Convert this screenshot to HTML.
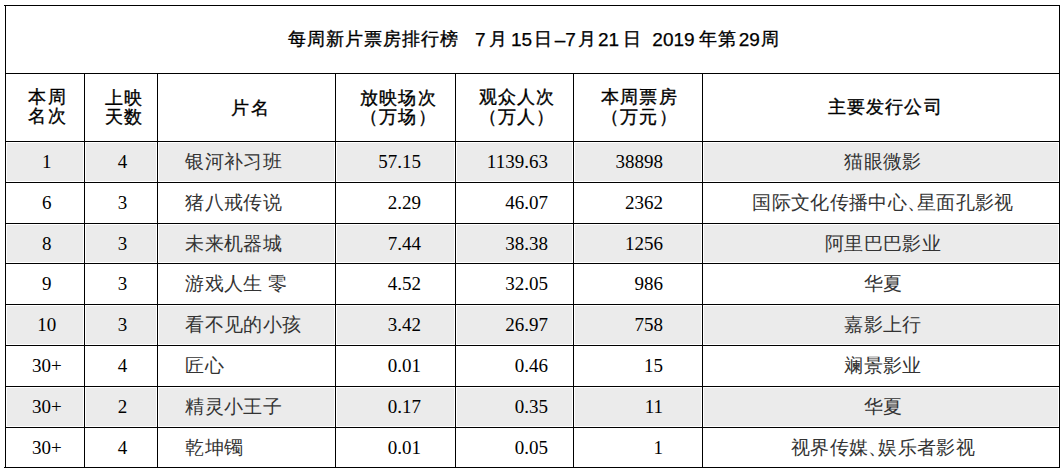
<!DOCTYPE html>
<html><head><meta charset="utf-8">
<style>
html,body{margin:0;padding:0;background:#fff;}
body{width:1064px;height:472px;position:relative;overflow:hidden;}
.l{position:absolute;background:#000;}
.g{position:absolute;background:#ebebeb;}
.t{position:absolute;white-space:nowrap;color:#000;line-height:1;}
.ttl{font-family:"Liberation Sans",sans-serif;font-size:19px;-webkit-text-stroke:0.25px #000;}
.tc{font-size:18.3px;letter-spacing:1.1px;-webkit-text-stroke:0.35px #000;}
.hd{font-family:"Liberation Sans",sans-serif;font-size:17.6px;letter-spacing:1.2px;line-height:19.4px;text-align:center;-webkit-text-stroke:0.35px #000;}
.cn{font-family:"Liberation Sans",sans-serif;font-size:19.35px;letter-spacing:0.35px;color:#333;}
.nm{font-family:"Liberation Serif",serif;font-size:19px;}
.hw{letter-spacing:-9px;}
</style></head><body>

<div class="g" style="left:7px;top:143px;width:76px;height:38px"></div>
<div class="g" style="left:86px;top:143px;width:70px;height:38px"></div>
<div class="g" style="left:159px;top:143px;width:175px;height:38px"></div>
<div class="g" style="left:337px;top:143px;width:117px;height:38px"></div>
<div class="g" style="left:457px;top:143px;width:115px;height:38px"></div>
<div class="g" style="left:575px;top:143px;width:126px;height:38px"></div>
<div class="g" style="left:704px;top:143px;width:354px;height:38px"></div>
<div class="g" style="left:7px;top:225px;width:76px;height:37px"></div>
<div class="g" style="left:86px;top:225px;width:70px;height:37px"></div>
<div class="g" style="left:159px;top:225px;width:175px;height:37px"></div>
<div class="g" style="left:337px;top:225px;width:117px;height:37px"></div>
<div class="g" style="left:457px;top:225px;width:115px;height:37px"></div>
<div class="g" style="left:575px;top:225px;width:126px;height:37px"></div>
<div class="g" style="left:704px;top:225px;width:354px;height:37px"></div>
<div class="g" style="left:7px;top:306px;width:76px;height:38px"></div>
<div class="g" style="left:86px;top:306px;width:70px;height:38px"></div>
<div class="g" style="left:159px;top:306px;width:175px;height:38px"></div>
<div class="g" style="left:337px;top:306px;width:117px;height:38px"></div>
<div class="g" style="left:457px;top:306px;width:115px;height:38px"></div>
<div class="g" style="left:575px;top:306px;width:126px;height:38px"></div>
<div class="g" style="left:704px;top:306px;width:354px;height:38px"></div>
<div class="g" style="left:7px;top:388px;width:76px;height:38px"></div>
<div class="g" style="left:86px;top:388px;width:70px;height:38px"></div>
<div class="g" style="left:159px;top:388px;width:175px;height:38px"></div>
<div class="g" style="left:337px;top:388px;width:117px;height:38px"></div>
<div class="g" style="left:457px;top:388px;width:115px;height:38px"></div>
<div class="g" style="left:575px;top:388px;width:126px;height:38px"></div>
<div class="g" style="left:704px;top:388px;width:354px;height:38px"></div>
<div class="l" style="left:4px;top:5px;width:1056px;height:1px"></div>
<div class="l" style="left:5px;top:73px;width:1055px;height:1px"></div>
<div class="l" style="left:5px;top:141px;width:1055px;height:1px"></div>
<div class="l" style="left:5px;top:182px;width:1055px;height:1px"></div>
<div class="l" style="left:5px;top:223px;width:1055px;height:1px"></div>
<div class="l" style="left:5px;top:263px;width:1055px;height:1px"></div>
<div class="l" style="left:5px;top:304px;width:1055px;height:1px"></div>
<div class="l" style="left:5px;top:345px;width:1055px;height:1px"></div>
<div class="l" style="left:5px;top:386px;width:1055px;height:1px"></div>
<div class="l" style="left:5px;top:427px;width:1055px;height:1px"></div>
<div class="l" style="left:4px;top:467px;width:1056px;height:1px"></div>
<div class="l" style="left:5px;top:5px;width:1px;height:463px"></div>
<div class="l" style="left:84px;top:73px;width:1px;height:395px"></div>
<div class="l" style="left:157px;top:73px;width:1px;height:395px"></div>
<div class="l" style="left:335px;top:73px;width:1px;height:395px"></div>
<div class="l" style="left:455px;top:73px;width:1px;height:395px"></div>
<div class="l" style="left:573px;top:73px;width:1px;height:395px"></div>
<div class="l" style="left:702px;top:73px;width:1px;height:395px"></div>
<div class="l" style="left:1059px;top:5px;width:1px;height:463px"></div>
<div class="t ttl tc" id="T0" style="left:287.7px;top:30.25px">每周新片票房排行榜</div>
<div class="t ttl" id="T1" style="left:474.95px;top:30.15px">7</div>
<div class="t ttl tc" id="T2" style="left:489.4px;top:30.25px">月</div>
<div class="t ttl" id="T3" style="left:510.9px;top:30.15px">15</div>
<div class="t ttl tc" id="T4" style="left:534.0px;top:30.25px">日</div>
<div class="t ttl" id="T5" style="left:554.75px;top:30.15px">–7</div>
<div class="t ttl tc" id="T6" style="left:577.6px;top:30.25px">月</div>
<div class="t ttl" id="T7" style="left:598.0px;top:30.15px">21</div>
<div class="t ttl tc" id="T8" style="left:623.0px;top:30.25px">日</div>
<div class="t ttl" id="T9" style="left:652.35px;top:30.15px">2019</div>
<div class="t ttl tc" id="T10" style="left:698.65px;top:30.25px">年第</div>
<div class="t ttl" id="T11" style="left:738.75px;top:30.15px">29</div>
<div class="t ttl tc" id="T12" style="left:761.25px;top:30.25px">周</div>
<div class="t hd" id="H0" style="left:-152.4px;width:400px;text-align:center;top:88.05px">本周<br>名次</div>
<div class="t hd" id="H1" style="left:-76.2px;width:400px;text-align:center;top:88.56px">上映<br>天数</div>
<div class="t hd" id="H2" style="left:50.55px;width:400px;text-align:center;top:99.46px">片名</div>
<div class="t hd" id="H3" style="left:198.34px;width:400px;text-align:center;top:88.54px">放映场次<br>（万场）</div>
<div class="t hd" id="H4" style="left:317.05px;width:400px;text-align:center;top:88.35px">观众人次<br>（万人）</div>
<div class="t hd" id="H5" style="left:439.34px;width:400px;text-align:center;top:88.25px">本周票房<br>（万元）</div>
<div class="t hd" id="H6" style="left:685.3px;width:400px;text-align:center;top:98.29px">主要发行公司</div>
<div class="t nm" id="R0C0" style="left:-153.2px;width:400px;text-align:center;top:152px">1</div>
<div class="t nm" id="R0C1" style="left:-77.6px;width:400px;text-align:center;top:152px">4</div>
<div class="t cn" id="R0C2" style="left:185.3px;top:152px">银河补习班</div>
<div class="t nm" id="R0C3" style="right:643px;top:152px">57.15</div>
<div class="t nm" id="R0C4" style="right:516.1px;top:152px">1139.63</div>
<div class="t nm" id="R0C5" style="right:400.9px;top:152px">38898</div>
<div class="t cn" id="R0C6" style="left:683px;width:400px;text-align:center;top:152px">猫眼微影</div>
<div class="t nm" id="R1C0" style="left:-153.2px;width:400px;text-align:center;top:193px">6</div>
<div class="t nm" id="R1C1" style="left:-77.6px;width:400px;text-align:center;top:193px">3</div>
<div class="t cn" id="R1C2" style="left:185.3px;top:193px">猪八戒传说</div>
<div class="t nm" id="R1C3" style="right:643px;top:193px">2.29</div>
<div class="t nm" id="R1C4" style="right:516.1px;top:193px">46.07</div>
<div class="t nm" id="R1C5" style="right:400.9px;top:193px">2362</div>
<div class="t cn" id="R1C6" style="left:683px;width:400px;text-align:center;top:193px">国际文化传播中心<span class="hw">、</span>星面孔影视</div>
<div class="t nm" id="R2C0" style="left:-153.2px;width:400px;text-align:center;top:234px">8</div>
<div class="t nm" id="R2C1" style="left:-77.6px;width:400px;text-align:center;top:234px">3</div>
<div class="t cn" id="R2C2" style="left:185.3px;top:234px">未来机器城</div>
<div class="t nm" id="R2C3" style="right:643px;top:234px">7.44</div>
<div class="t nm" id="R2C4" style="right:516.1px;top:234px">38.38</div>
<div class="t nm" id="R2C5" style="right:400.9px;top:234px">1256</div>
<div class="t cn" id="R2C6" style="left:683px;width:400px;text-align:center;top:234px">阿里巴巴影业</div>
<div class="t nm" id="R3C0" style="left:-153.2px;width:400px;text-align:center;top:274px">9</div>
<div class="t nm" id="R3C1" style="left:-77.6px;width:400px;text-align:center;top:274px">3</div>
<div class="t cn" id="R3C2" style="left:185.3px;top:274px">游戏人生 零</div>
<div class="t nm" id="R3C3" style="right:643px;top:274px">4.52</div>
<div class="t nm" id="R3C4" style="right:516.1px;top:274px">32.05</div>
<div class="t nm" id="R3C5" style="right:400.9px;top:274px">986</div>
<div class="t cn" id="R3C6" style="left:683px;width:400px;text-align:center;top:274px">华夏</div>
<div class="t nm" id="R4C0" style="left:-153.2px;width:400px;text-align:center;top:315px">10</div>
<div class="t nm" id="R4C1" style="left:-77.6px;width:400px;text-align:center;top:315px">3</div>
<div class="t cn" id="R4C2" style="left:185.3px;top:315px">看不见的小孩</div>
<div class="t nm" id="R4C3" style="right:643px;top:315px">3.42</div>
<div class="t nm" id="R4C4" style="right:516.1px;top:315px">26.97</div>
<div class="t nm" id="R4C5" style="right:400.9px;top:315px">758</div>
<div class="t cn" id="R4C6" style="left:683px;width:400px;text-align:center;top:315px">嘉影上行</div>
<div class="t nm" id="R5C0" style="left:-153.2px;width:400px;text-align:center;top:356px">30+</div>
<div class="t nm" id="R5C1" style="left:-77.6px;width:400px;text-align:center;top:356px">4</div>
<div class="t cn" id="R5C2" style="left:185.3px;top:356px">匠心</div>
<div class="t nm" id="R5C3" style="right:643px;top:356px">0.01</div>
<div class="t nm" id="R5C4" style="right:516.1px;top:356px">0.46</div>
<div class="t nm" id="R5C5" style="right:400.9px;top:356px">15</div>
<div class="t cn" id="R5C6" style="left:683px;width:400px;text-align:center;top:356px">斓景影业</div>
<div class="t nm" id="R6C0" style="left:-153.2px;width:400px;text-align:center;top:397px">30+</div>
<div class="t nm" id="R6C1" style="left:-77.6px;width:400px;text-align:center;top:397px">2</div>
<div class="t cn" id="R6C2" style="left:185.3px;top:397px">精灵小王子</div>
<div class="t nm" id="R6C3" style="right:643px;top:397px">0.17</div>
<div class="t nm" id="R6C4" style="right:516.1px;top:397px">0.35</div>
<div class="t nm" id="R6C5" style="right:400.9px;top:397px">11</div>
<div class="t cn" id="R6C6" style="left:683px;width:400px;text-align:center;top:397px">华夏</div>
<div class="t nm" id="R7C0" style="left:-153.2px;width:400px;text-align:center;top:438px">30+</div>
<div class="t nm" id="R7C1" style="left:-77.6px;width:400px;text-align:center;top:438px">4</div>
<div class="t cn" id="R7C2" style="left:185.3px;top:438px">乾坤镯</div>
<div class="t nm" id="R7C3" style="right:643px;top:438px">0.01</div>
<div class="t nm" id="R7C4" style="right:516.1px;top:438px">0.05</div>
<div class="t nm" id="R7C5" style="right:400.9px;top:438px">1</div>
<div class="t cn" id="R7C6" style="left:683px;width:400px;text-align:center;top:438px">视界传媒<span class="hw">、</span>娱乐者影视</div>
</body></html>
